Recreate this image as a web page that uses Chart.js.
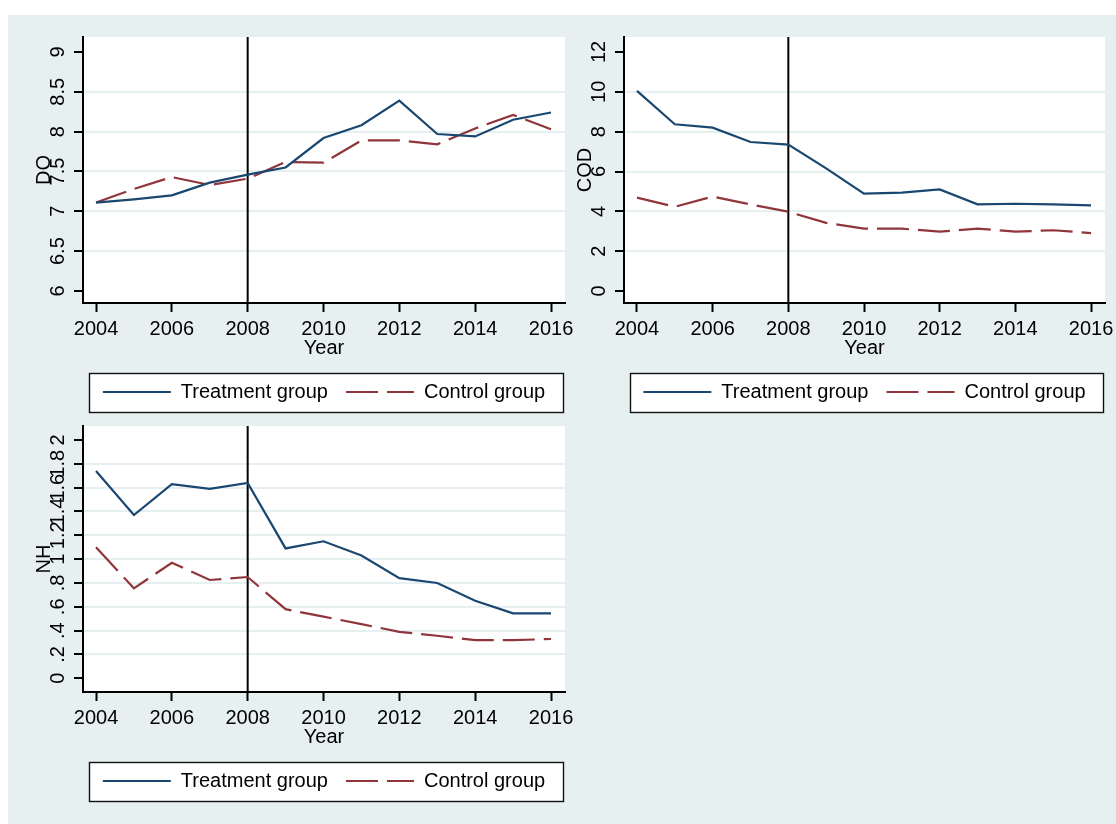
<!DOCTYPE html>
<html>
<head>
<meta charset="utf-8">
<title>DO / COD / NH</title>
<script src="https://cdn.jsdelivr.net/npm/chart.js@4"></script>
<style>
  html, body { margin: 0; background: #fff; overflow: hidden; width: 1116px; height: 824px; }
  #bg { position: absolute; left: 8px; top: 15px; width: 1108px; height: 809px; background: #e6f0f1; }
  canvas { position: absolute; }
</style>
</head>
<body>
<div id="bg"></div>
<canvas id="chartDO" width="580" height="405" style="left:8px;top:15px"></canvas>
<canvas id="chartCOD" width="580" height="405" style="left:549px;top:15px"></canvas>
<canvas id="chartNH" width="580" height="405" style="left:8px;top:404px"></canvas>
<script>
// data
const years = [2004, 2005, 2006, 2007, 2008, 2009, 2010, 2011, 2012, 2013, 2014, 2015, 2016]
const policyYear = 2008

const doTreat = [7.11, 7.15, 7.20, 7.36, 7.46, 7.55, 7.92, 8.08, 8.39, 7.97, 7.94, 8.15, 8.24]
const doControl = [7.11, 7.28, 7.43, 7.33, 7.41, 7.62, 7.61, 7.89, 7.89, 7.84, 8.04, 8.21, 8.03]

const codTreat = [10.05, 8.37, 8.20, 7.48, 7.35, 6.16, 4.89, 4.94, 5.10, 4.35, 4.38, 4.35, 4.30]
const codControl = [4.69, 4.23, 4.74, 4.35, 3.98, 3.42, 3.13, 3.13, 2.98, 3.13, 2.98, 3.05, 2.91]

const nhTreat = [1.74, 1.37, 1.63, 1.59, 1.64, 1.09, 1.15, 1.03, 0.84, 0.80, 0.65, 0.545, 0.545]
const nhControl = [1.10, 0.755, 0.97, 0.825, 0.85, 0.58, 0.517, 0.455, 0.39, 0.357, 0.32, 0.32, 0.33]

// ticks
const xTicks = [2004, 2006, 2008, 2010, 2012, 2014, 2016]
const doTicks = [6, 6.5, 7, 7.5, 8, 8.5, 9]
const doLabels = ['6', '6.5', '7', '7.5', '8', '8.5', '9']
const codTicks = [0, 2, 4, 6, 8, 10, 12]
const codLabels = ['0', '2', '4', '6', '8', '10', '12']
const nhTicks = [0, 0.2, 0.4, 0.6, 0.8, 1, 1.2, 1.4, 1.6, 1.8, 2]
const nhLabels = ['0', '.2', '.4', '.6', '.8', '1', '1.2', '1.4', '1.6', '1.8', '2']

const NAVY = '#1a476f'
const MAROON = '#90353b'
const GRID = '#e6f0f1'

Chart.defaults.font.family = "'Liberation Sans', Arial, sans-serif"
Chart.defaults.font.size = 20
Chart.defaults.color = '#000'

const LEGEND_PAD = 18

const legendBox = chart => {
    const { chartArea: a, legend } = chart
    const cy = legend.top + LEGEND_PAD + 10
    return { x: Math.round(a.left) + 6.5, y: Math.round(cy - 19.5) + 0.5, w: a.right - a.left - 8, h: 39 }
}

// white plot region, legend frame, 2008 marker
const stataLook = {
    id: 'stataLook',
    beforeDraw(chart) {
        const { ctx, chartArea: a } = chart
        const b = legendBox(chart)
        ctx.save()
        ctx.fillStyle = '#fff'
        ctx.fillRect(a.left, a.top, a.right - a.left, a.bottom - a.top)
        ctx.fillRect(b.x, b.y, b.w, b.h)
        ctx.restore()
    },
    beforeDatasetsDraw(chart) {
        const { ctx, chartArea: a, scales: { x } } = chart
        const px = x.getPixelForValue(policyYear)
        ctx.save()
        ctx.strokeStyle = '#000'
        ctx.lineWidth = 2
        ctx.beginPath()
        ctx.moveTo(px, a.top)
        ctx.lineTo(px, a.bottom)
        ctx.stroke()
        ctx.restore()
    },
    afterDraw(chart) {
        const { ctx } = chart
        const b = legendBox(chart)
        ctx.save()
        ctx.strokeStyle = '#111'
        ctx.lineWidth = 1.4
        ctx.strokeRect(b.x, b.y, b.w, b.h)
        ctx.restore()
    }
}

const xAxis = () => ({
    type: 'linear',
    min: 2003.657,
    max: 2016.369,
    afterBuildTicks: s => { s.ticks = xTicks.map(v => ({ value: v })) },
    afterFit: s => { s.height = 61; s.paddingLeft = 0; s.paddingRight = 0 },
    border: { display: true, color: '#000', width: 2 },
    grid: { drawOnChartArea: false, tickColor: '#000', tickWidth: 2, tickLength: 9 },
    ticks: { autoSkip: false, maxRotation: 0, padding: 5, callback: v => String(v) },
    title: { display: true, text: 'Year', padding: { top: 0, bottom: 4 } }
})

const yAxis = (title, ticks, labels, min, max, pad) => ({
    min,
    max,
    afterBuildTicks: s => { s.ticks = ticks.map(v => ({ value: v })) },
    afterFit: s => { s.width = 75 },
    border: { display: true, color: '#000', width: 2 },
    grid: {
        color: c => (c.tick && (c.tick.value === ticks[0] || c.tick.value === ticks[ticks.length - 1])) ? 'rgba(0,0,0,0)' : GRID,
        lineWidth: 2,
        tickColor: '#000',
        tickWidth: 2,
        tickLength: 9
    },
    ticks: { autoSkip: false, minRotation: 90, maxRotation: 90, crossAlign: 'center', padding: pad, callback: (v, i) => labels[i] },
    title: { display: true, text: title, padding: { top: 24, bottom: 0 } }
})

const lines = (treat, control) => [
    {
        label: 'Treatment group',
        data: years.map((y, i) => ({ x: y, y: treat[i] })),
        borderColor: NAVY,
        backgroundColor: NAVY,
        borderWidth: 2.2,
        pointRadius: 0,
        tension: 0
    },
    {
        label: 'Control group',
        data: years.map((y, i) => ({ x: y, y: control[i] })),
        borderColor: MAROON,
        backgroundColor: MAROON,
        borderWidth: 2.2,
        borderDash: [32, 9],
        pointRadius: 0,
        tension: 0
    }
]

// legend samples take the line style of the dataset, not of its points
const legendLabels = chart => Chart.defaults.plugins.legend.labels.generateLabels(chart).map(item => {
    const ds = chart.data.datasets[item.datasetIndex]
    return { ...item, strokeStyle: ds.borderColor, lineWidth: ds.borderWidth, lineDash: ds.borderDash || [] }
})

const makePanel = (id, title, treat, control, ticks, labels, min, max, pad, rightPad) => new Chart(document.getElementById(id), {
    type: 'line',
    data: { datasets: lines(treat, control) },
    options: {
        responsive: false,
        animation: false,
        devicePixelRatio: 1,
        layout: { padding: { left: 0, right: rightPad, top: 22, bottom: 8 } },
        scales: { x: xAxis(), y: yAxis(title, ticks, labels, min, max, pad) },
        plugins: {
            tooltip: { enabled: false },
            legend: {
                position: 'bottom',
                fullSize: false,
                labels: {
                    usePointStyle: true,
                    pointStyle: 'line',
                    pointStyleWidth: 68,
                    padding: LEGEND_PAD,
                    color: '#000',
                    font: { size: 20 },
                    generateLabels: legendLabels
                }
            }
        }
    },
    plugins: [stataLook]
})

makePanel('chartDO', 'DO', doTreat, doControl, doTicks, doLabels, 5.849, 9.188, 2, 23)
makePanel('chartCOD', 'COD', codTreat, codControl, codTicks, codLabels, -0.602, 12.753, 4, 24)
makePanel('chartNH', 'NH', nhTreat, nhControl, nhTicks, nhLabels, -0.115, 2.1175, 2, 23)
</script>
</body>
</html>
